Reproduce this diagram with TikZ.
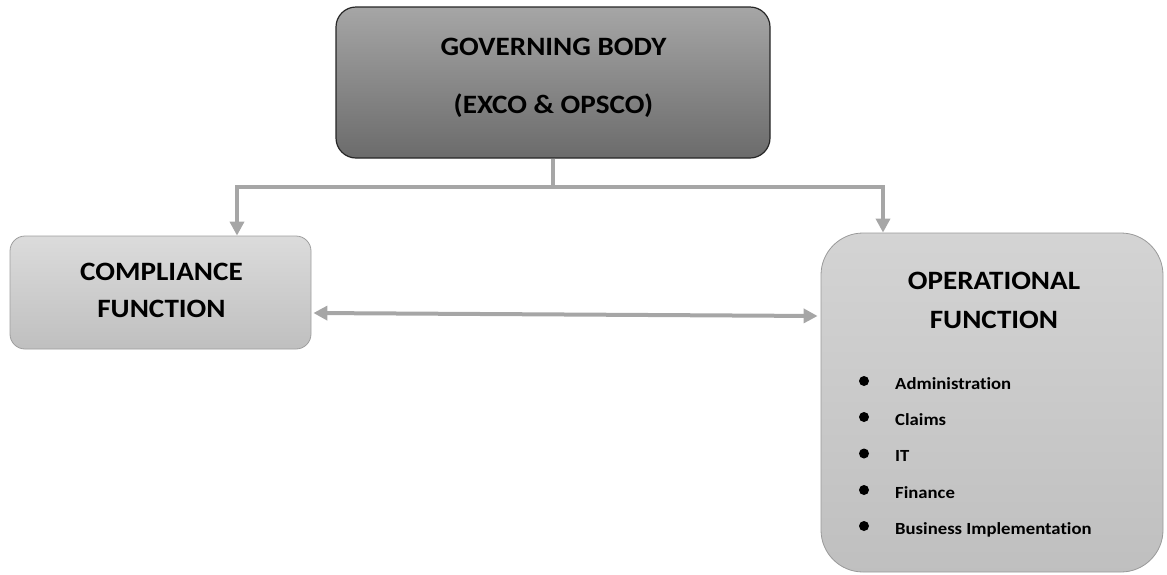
\documentclass[tikz,border=0pt]{standalone}
\usepackage{fontspec}
\setmainfont{Carlito}[FakeStretch=1.1,Ligatures=NoCommon]
\usetikzlibrary{arrows.meta}
\tikzset{
  govbox/.style={draw=black!85, line width=1.2pt, rounded corners=20pt, top color=black!35, bottom color=black!58, minimum width=434pt, minimum height=151pt, inner sep=0pt},
  compbox/.style={draw=black!38, line width=0.8pt, rounded corners=15pt, top color=black!14, bottom color=black!25, minimum width=301pt, minimum height=113pt, inner sep=0pt},
  opbox/.style={draw=black!40, line width=0.8pt, rounded corners=42pt, top color=black!17, bottom color=black!25, minimum width=342pt, minimum height=339pt, inner sep=0pt},
  conn/.style={draw=black!35, line width=4pt, -{Triangle[length=14pt,width=14pt]}},
  dconn/.style={draw=black!35, line width=4pt, {Triangle[length=14pt,width=14pt]}-{Triangle[length=14pt,width=14pt]}},
  bigtxt/.style={font=\bfseries\fontsize{26.5}{30}\selectfont, inner sep=0pt, anchor=base},
  itemtxt/.style={font=\bfseries\fontsize{17}{20}\selectfont, anchor=base west, inner sep=0pt},
  bul/.style={circle, fill=black, minimum size=10pt, inner sep=0pt},
}
\begin{document}
\begin{tikzpicture}[x=1pt,y=-1pt]
\useasboundingbox (0,0) rectangle (1167,574);
\node[govbox] (gov) at (553,82.5) {};
\node[bigtxt] (g1) at (553.5,55) {GOVERNING BODY};
\node[bigtxt] (g2) at (553.5,113) {(EXCO \& OPSCO)};
\node[compbox] (comp) at (160.5,292.5) {};
\node[bigtxt] (c1) at (161.5,280) {COMPLIANCE};
\node[bigtxt] (c2) at (161.5,317.5) {FUNCTION};
\node[opbox] (op) at (992,402.5) {};
\node[bigtxt] (o1) at (994,289) {OPERATIONAL};
\node[bigtxt] (o2) at (994,328) {FUNCTION};
\node[bul] (b1) at (864,381) {};
\node[bul] (b2) at (864,417) {};
\node[bul] (b3) at (864,453.5) {};
\node[bul] (b4) at (864,490) {};
\node[bul] (b5) at (864,526) {};
\node[itemtxt] (t1) at (895,389) {Administration};
\node[itemtxt] (t2) at (895,425) {Claims};
\node[itemtxt] (t3) at (895,461.5) {IT};
\node[itemtxt] (t4) at (895,498) {Finance};
\node[itemtxt] (t5) at (895,534) {Business Implementation};
\coordinate (jl) at (237,187);
\coordinate (jr) at (883,187);
\draw[conn] (gov.south) |- (jl) -- (jl |- comp.north);
\draw[conn] (gov.south) |- (jr) -- (jr |- op.north);
\draw[dconn] ([yshift=-20.5pt,xshift=2pt]comp.east) -- ([yshift=86.5pt,xshift=-3pt]op.west);
\end{tikzpicture}
\end{document}
